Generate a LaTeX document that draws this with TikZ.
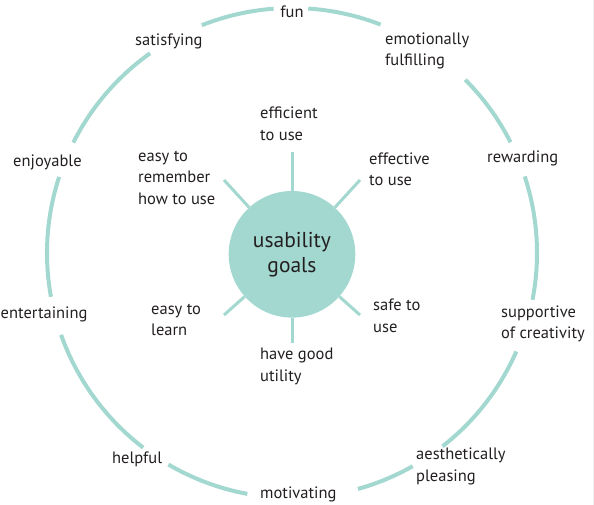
\documentclass[tikz,border=0pt]{standalone}
\usepackage{fontspec}
\setmainfont{PT Sans}
\definecolor{ringc}{HTML}{A2D8D0}
\definecolor{inkc}{HTML}{231F20}
\begin{document}
\begin{tikzpicture}[x=1pt,y=-1pt,
  ring/.style={draw=ringc, line width=4pt},
  spoke/.style={draw=ringc, line width=3pt},
  lbl/.style={anchor=west, align=left, inner sep=0pt, text=inkc,
    font=\fontsize{16.5}{21.5}\selectfont},
  hub/.style={circle, fill=ringc, minimum size=126.6pt, inner sep=0pt,
    align=center, text=inkc, font=\fontsize{21.5}{25}\selectfont}]
\useasboundingbox (0,0) rectangle (594,505);
\draw[gray!12, line width=0.8pt] (593.5,0) -- (593.5,505);
\coordinate (C) at (292,253);
% outer ring segments
\foreach \a/\b in {94.3/111.6, 125.4/153.2, 161.9/190.3, 199.5/232.6,
                   239.7/259.5, 285.6/299.5, 307.9/336.3, 349/378.2,
                   26.9/45, 68.8/86.2}
  \draw[ring] (C) ++(-\a:245) arc[start angle=-\a, end angle=-\b, radius=245];
% hub
\node[hub] (goal) at (292,254.3) {usability\\goals};
% spoke ends
\coordinate (sT) at (292,152.5);
\coordinate (sUR) at (360,180);
\coordinate (sLR) at (360,315);
\coordinate (sB) at (292,343);
\coordinate (sLL) at (224,315);
\coordinate (sUL) at (224,180);
\foreach \s in {sT,sUR,sLR,sB,sLL,sUL}
  \draw[spoke] (goal) -- (\s);
% inner labels
\node[lbl] (eff) at (260,124) {efficient\\to use};
\node[lbl] (efv) at (369,169.5) {effective\\to use};
\node[lbl] (rem) at (138,177.5) {easy to\\remember\\how to use};
\node[lbl] (lrn) at (151,320) {easy to\\learn};
\node[lbl] (utl) at (260,366.5) {have good\\utility};
\node[lbl] (saf) at (373,316) {safe to\\use};
% outer labels
\node[lbl, anchor=center] (fun) at (292,12) {fun};
\node[lbl] (sat) at (135,41) {satisfying};
\node[lbl] (enj) at (13,162) {enjoyable};
\node[lbl] (ent) at (0.5,314) {entertaining};
\node[lbl] (hlp) at (112,459.5) {helpful};
\node[lbl] (mot) at (260,494.5) {motivating};
\node[lbl] (aes) at (416,466.5) {aesthetically\\pleasing};
\node[lbl] (sup) at (501,324) {supportive\\of creativity};
\node[lbl] (rew) at (487,158) {rewarding};
\node[lbl] (emo) at (385,51) {emotionally\\fulfilling};
\end{tikzpicture}
\end{document}
